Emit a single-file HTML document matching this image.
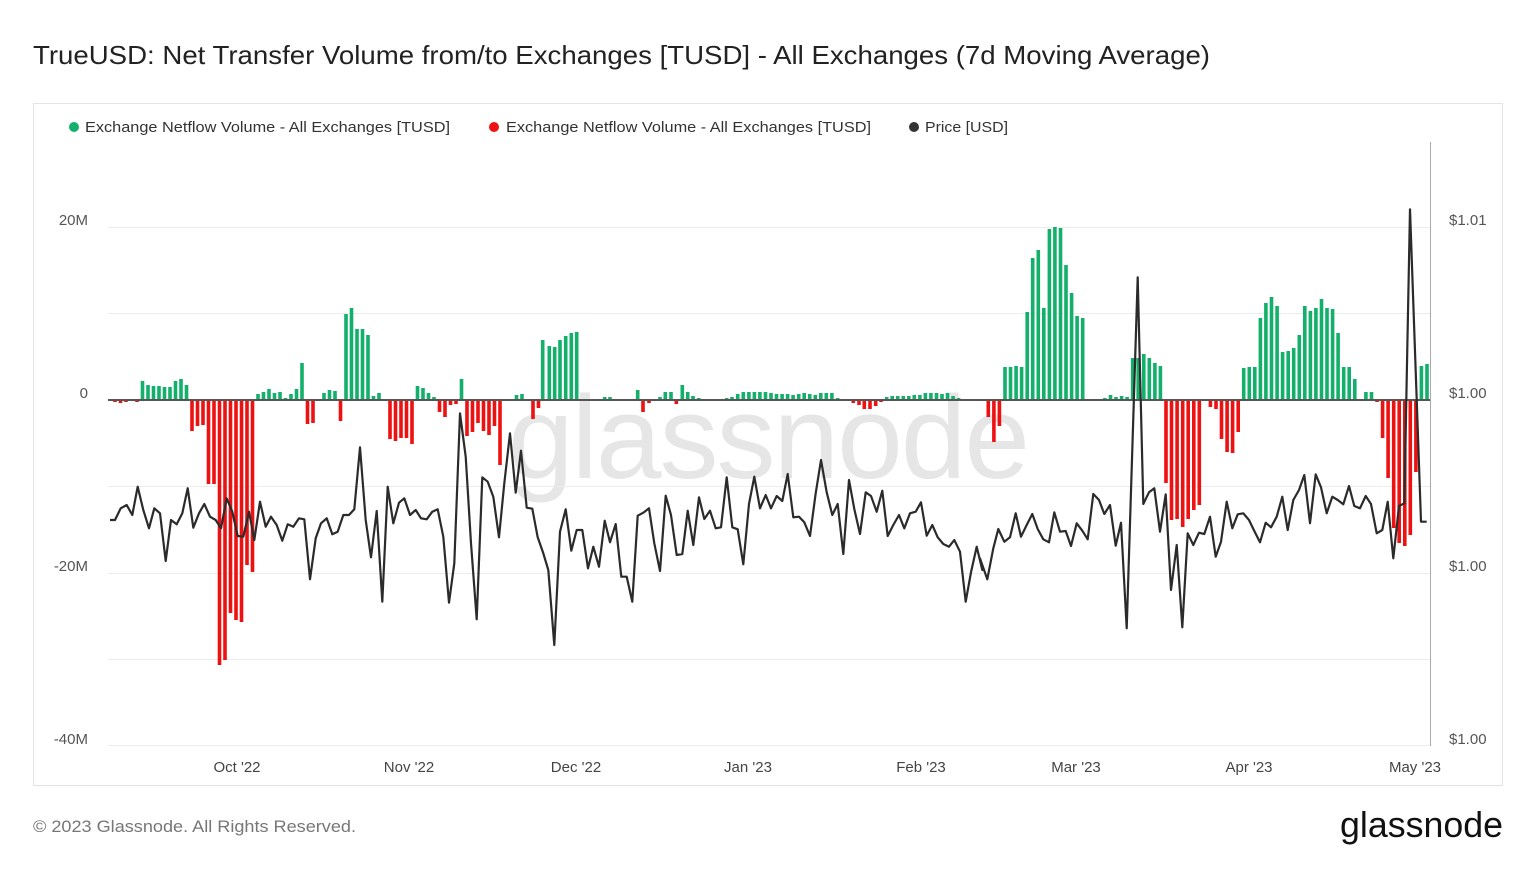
<!DOCTYPE html>
<html><head><meta charset="utf-8"><style>
body{margin:0;background:#fff;width:1536px;height:864px;overflow:hidden;font-family:"Liberation Sans",sans-serif}
</style></head><body>
<svg id="s" width="1536" height="864" xmlns="http://www.w3.org/2000/svg" font-family="Liberation Sans, sans-serif">
<text x="33" y="64" font-size="26" fill="#222" textLength="1177" lengthAdjust="spacingAndGlyphs">TrueUSD: Net Transfer Volume from/to Exchanges [TUSD] - All Exchanges (7d Moving Average)</text>
<rect x="33.5" y="103.5" width="1469" height="682" fill="#fff" stroke="#e4e4e4"/>
<text x="768" y="478" font-size="118" fill="#e6e6e6" text-anchor="middle" letter-spacing="-2">glassnode</text>
<g stroke="#ececec" stroke-width="1">
<line x1="108" x2="1430" y1="227.5" y2="227.5"/><line x1="108" x2="1430" y1="313.5" y2="313.5"/>
<line x1="108" x2="1430" y1="486.5" y2="486.5"/><line x1="108" x2="1430" y1="573.5" y2="573.5"/>
<line x1="108" x2="1430" y1="659.5" y2="659.5"/><line x1="108" x2="1430" y1="745.5" y2="745.5"/>
</g>
<line x1="1430.5" x2="1430.5" y1="142" y2="746" stroke="#aaa"/>
<g font-size="15" fill="#555" text-anchor="end">
<text x="88" y="225">20M</text><text x="88" y="398">0</text><text x="88" y="571">-20M</text><text x="88" y="744">-40M</text>
</g>
<g font-size="15" fill="#555">
<text x="1449" y="225">$1.01</text><text x="1449" y="398">$1.00</text><text x="1449" y="571">$1.00</text><text x="1449" y="744">$1.00</text>
</g>
<g font-size="15" fill="#444" text-anchor="middle">
<text x="237" y="772">Oct '22</text><text x="409" y="772">Nov '22</text><text x="576" y="772">Dec '22</text><text x="748" y="772">Jan '23</text><text x="921" y="772">Feb '23</text><text x="1076" y="772">Mar '23</text><text x="1249" y="772">Apr '23</text><text x="1415" y="772">May '23</text>
</g>
<g font-size="15" fill="#333">
<circle cx="74" cy="127" r="5" fill="#12b06a"/><text x="85" y="132" textLength="365" lengthAdjust="spacingAndGlyphs">Exchange Netflow Volume - All Exchanges [TUSD]</text>
<circle cx="494" cy="127" r="5" fill="#ee1111"/><text x="506" y="132" textLength="365" lengthAdjust="spacingAndGlyphs">Exchange Netflow Volume - All Exchanges [TUSD]</text>
<circle cx="914" cy="127" r="5" fill="#333"/><text x="925" y="132" textLength="83" lengthAdjust="spacingAndGlyphs">Price [USD]</text>
</g>
<g id="bars"></g>
<line x1="108" x2="1430" y1="400" y2="400" stroke="#555" stroke-width="2"/>
<polyline id="pl" fill="none" stroke="#2b2b2b" stroke-width="2.2" stroke-linejoin="round"/>
<text x="33" y="832" font-size="17" fill="#777" textLength="323" lengthAdjust="spacingAndGlyphs">© 2023 Glassnode. All Rights Reserved.</text>
<text x="1503" y="837" font-size="36" fill="#111" text-anchor="end" textLength="163" lengthAdjust="spacingAndGlyphs">glassnode</text>
</svg>
<script>
var s1=[-2,-3,-2,-1,-2,19,15,14,14,13,13,19,21,15,-31,-26,-25,-84,-84,-265,-260,-213,-220,-222,-165,-172,6,8,11,7,8,2,6,11,37,-24,-23,0,7,10,9,-21,86,92,71,71,65,4,7,0,-39,-41,-38,-38,-44,14,12,7,3,-12,-17,-5,-4,21,-36,-32,-23,-31,-35,-26,-65,0,0,5,6,0,-19,-8];
var s2=[8,60,28,54,44,53,60,60,77,64,94,67,110,68,178,-1,194,3,210,3,260,-1,275,-1,293,10,309,-12,327,-3,343,1,360,3,376,8,393,8,409,-4,427,15,443,8,459,4,476,2,525,0.5,541,1,560,2,576,3,593,6];
var mid=[8,8,8,8,8,7,6,6,6,5,6,7,6,5,7,7,7];
for(var k=0;k<mid.length;k++)s2.push(610+k*16.6,mid[k]);
s2.push(893,2,940,-3,957,-5,973,-9,990,-9,1007,-6,1023,-2);
var m2=[3,4,4,4,4,5,5,7,7,7,6,7,4,2];
for(var k=0;k<m2.length;k++)s2.push(1040+k*16.6,m2[k]);
var s3=[-17,-42,-26,33,33,34,33,88,142,150,92,171,173,172,135,107,84,82,0.3,0.3,0.3,2,5,3,4,3,42,42,46,42,37,34,-83,-120,-119,-127,-119,-110,-105,0,-7,-9,-39,-52,-53,-32,32,33,33,82,97,103,94,48,49,52,65,94,89,92,101,92,91,67,33,33,21,0,8,8,-2,-38,-78,-128,-143,-146,-135,-72,34,36];
var out='';
function bar(x,v){if(Math.abs(v)<0.2)return;x-=1.8;
out+='<rect x="'+x.toFixed(1)+'" y="'+(v>0?400-v:400)+'" width="3.6" height="'+Math.abs(v)+'" fill="'+(v>0?'#12b06a':'#ee1111')+'"/>';}
for(var i=0;i<s1.length;i++)bar(115+i*5.5,s1[i]);
for(var i=0;i<s2.length;i+=2)bar(540+s2[i]/3,s2[i+1]);
for(var i=0;i<s3.length;i++)bar(988.3+i*5.553,s3[i]);
document.getElementById('bars').innerHTML=out;
var z1=[30,720,45,720,62,685,80,675,97,705,113,620,130,690,147,745,163,685,180,700,197,843,213,720,230,733,247,700,263,625,280,743,297,700,313,672,330,710,347,720,363,745,380,655,397,695,413,768,430,770,447,695,463,780,480,665,497,740,513,710,530,735,547,782,563,733,580,740,597,715,613,718,630,898,647,775,663,730,680,715,697,763,713,755,730,705,747,705,763,688,780,502,797,720,813,832,830,693,847,965,863,620,880,730,897,668,913,655,930,705,947,690,963,715,980,718,997,695,1013,688,1030,770,1047,968,1063,850,1080,400,1097,530,1113,790,1130,1018,1147,592,1163,605,1180,650,1197,772,1213,610,1230,460,1247,638,1263,512,1280,683,1297,686,1313,772,1330,820];
var z2=[25,870,43,1095,60,755,77,688,94,812,110,750,127,750,144,865,160,800,177,860,194,722,210,787,227,732,244,890,260,890,277,965,293,707,310,698,327,685,343,790,360,873,377,647,393,705,410,825,427,822,443,692,460,795,477,652,493,717,510,692,527,745,543,742,560,592,577,742,593,748,610,853,627,672,643,590,660,685,677,645,693,685,710,648,727,663,743,582,760,712,777,710,793,727,810,768,827,640,843,540,860,637,877,705,893,672,910,822,927,600,943,687,960,762,977,637,993,648,1010,695,1027,632,1043,768,1060,735,1077,705,1093,745,1110,700,1127,695,1143,667,1160,767,1177,735,1193,772,1210,792,1227,800,1243,780,1260,815,1277,965,1293,877,1310,800,1327,870];
var z3=[0,1075,22,1138,40,1045,55,987,73,1025,90,1012,107,940,123,1010,140,975,157,942,173,987,190,1018,207,1027,223,937,240,995,257,993,273,1038,290,970,307,992,323,1018,340,882,357,900,373,942,390,915,407,1037,423,968,440,1285,473,232,490,912,507,877,523,865,540,995,557,883,573,1170,590,1035,607,1282,623,1000,640,1035,657,998,673,1002,690,950,707,1070,723,1025,740,905,757,985,773,943,790,940,807,960,823,993,840,1027,857,968,873,982,890,950,907,890,923,990,940,900,957,870,973,825,990,970,1007,823,1023,862,1040,940,1057,890,1073,900,1090,913,1107,858,1123,918,1140,925,1157,888,1173,912,1190,1000,1207,990,1223,905,1240,1075,1257,918,1273,910,1290,28,1323,965,1340,965];
var p=[];
function add(a,ox,oy){for(var i=0;i<a.length;i+=2)p.push((ox+a[i]/3).toFixed(1)+','+(oy+a[i+1]/3).toFixed(1));}
add(z1,100,280);add(z2,540,280);add(z3,980,200);
document.getElementById('pl').setAttribute('points',p.join(' '));
</script>
</body></html>
